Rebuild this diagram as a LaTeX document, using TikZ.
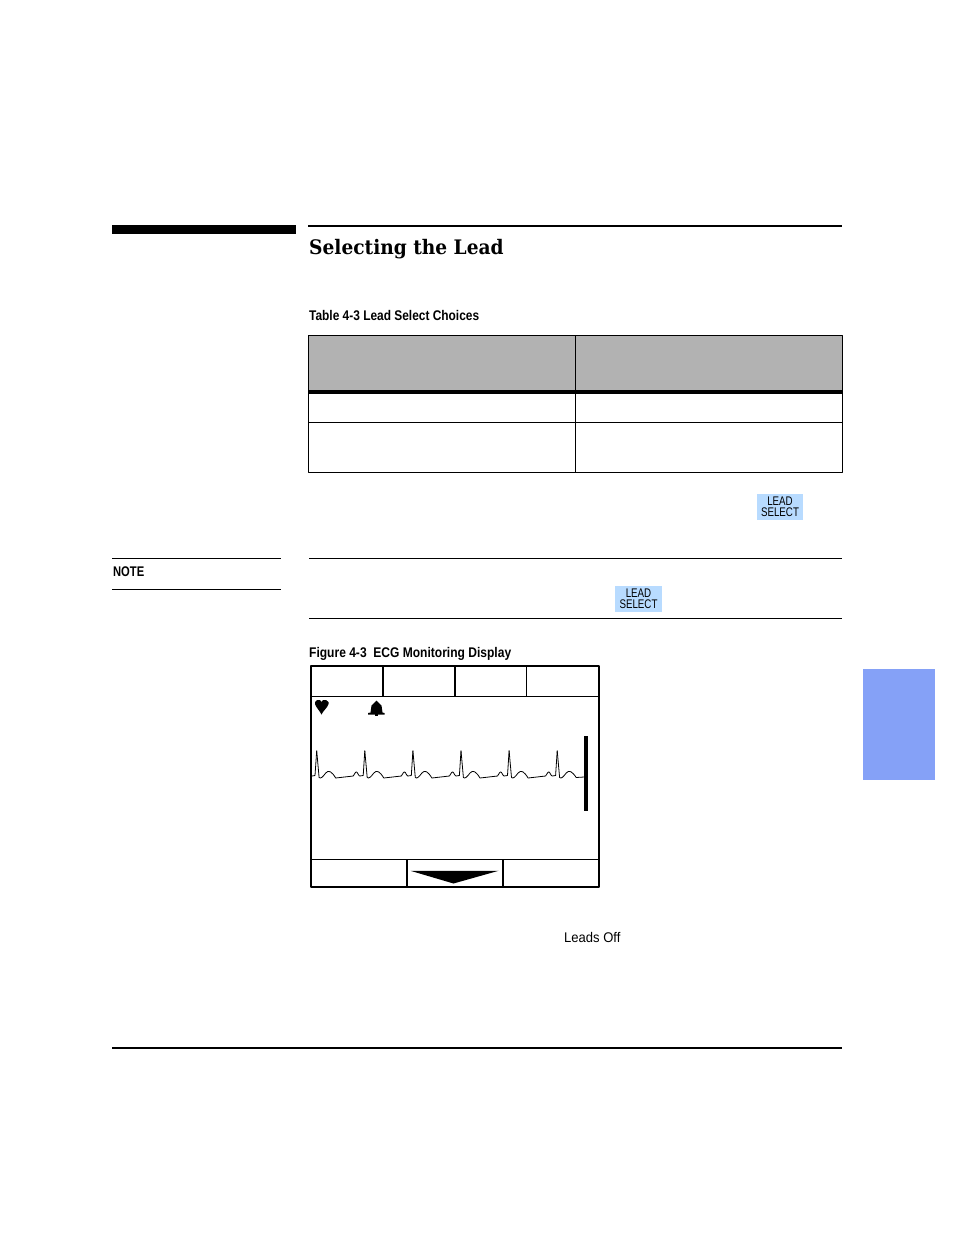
\documentclass[tikz,border=0pt]{standalone}
\usepackage{fontspec}
\usepackage{xcolor}
\usepackage{tikz}
\usetikzlibrary{calc}
\newfontfamily\condfont{Liberation Sans}
\newfontfamily\headfont{DejaVu Serif}
\definecolor{tabblue}{rgb}{0.52,0.63,0.97}
\definecolor{keyblue}{rgb}{0.72,0.86,1.}
\definecolor{headgray}{rgb}{0.70,0.70,0.70}
\tikzset{
  caption/.style={anchor=base west,inner sep=0pt,xscale=0.86,font=\condfont\bfseries\fontsize{14}{16}\selectfont},
  keylabel/.style={draw=none,fill=keyblue,minimum width=44pt,minimum height=26pt,inner sep=0pt},
  framerule/.style={line width=2.0pt},
  cellrule/.style={line width=1.1pt}
}
\newcommand{\keytext}{\raisebox{-0.5pt}{\scalebox{0.78}[1]{\parbox{60pt}{\centering\condfont\fontsize{12.5}{11}\selectfont LEAD\\SELECT}}}}
\begin{document}
\begin{tikzpicture}[x=1.0pt,y=-1.0pt,line join=round]
\useasboundingbox (0,0) rectangle (954,1235);
\fill [white] (0,0) rectangle (954,1235);
% page head
\fill [black] (112,225) rectangle (296,234);
\draw [line width=2.2pt] (308,226) -- (842,226);
\node (title) [anchor=base west,inner sep=0pt,xscale=0.93,font=\headfont\bfseries\fontsize{20}{24}\selectfont] at (309,254) {Selecting the Lead};
\node (tablecap) [caption,xscale=0.99] at (309,320) {Table 4-3 Lead Select Choices};
% table
\fill [headgray] (308.5,336) rectangle (842.5,390);
\fill [black] (308.5,390) rectangle (842.5,394);
\draw [line width=0.9pt] (308.5,335.5) rectangle (842.5,472);
\draw [line width=0.9pt] (308.5,422) -- (842.5,422);
\draw [line width=0.9pt] (575.5,335.5) -- (575.5,472);
\node (keyone) [keylabel] at (780,507) {\keytext};
% note
\draw [line width=0.9pt] (112,558.5) -- (281,558.5);
\draw [line width=0.9pt] (112,589.5) -- (281,589.5);
\draw [line width=0.9pt] (309,558.5) -- (842,558.5);
\draw [line width=0.9pt] (309,618.5) -- (842,618.5);
\node (notelabel) [caption,xscale=0.93] at (113,576) {NOTE};
\node (keytwo) [keylabel,minimum width=45pt] at (638.5,599) {\keytext};
% display
\node (figcap) [caption] at (309,657) {Figure 4-3\ \ ECG Monitoring Display};
\draw [framerule] (311,665.5) rectangle (598.5,886.5);
\draw [cellrule] (311,696.5) -- (598.5,696.5);
\draw [cellrule] (311,859.5) -- (598.5,859.5);
\foreach \divx in {383,455,526.5}
  \draw [cellrule] (\divx,665.5) -- (\divx,696.5);
\foreach \divx in {407,503}
  \draw [cellrule] (\divx,859.5) -- (\divx,886.5);
\fill [black] (410.5,870.8) -- (498.5,870.8) -- (453.5,883.5) -- cycle;
\fill [black] (584,736) rectangle (588,811);
% heart and bell
\fill [black] (321.5,714.5) -- (320,712) -- (316.5,707) -- (315,704) -- (315,702) -- (317,700) -- (320,700) -- (321.5,702) -- (323,700) -- (326,700) -- (328.5,702) -- (328.5,704) -- (327,707) -- (323,712) -- cycle;
\fill [black] (368,714.5) -- (384.5,714.5) -- (384.5,713) -- (382.5,712.5) -- (381.5,705.5) -- (378.5,702.5) -- (376.5,700.5) -- (374.5,702.5) -- (371.5,705.5) -- (370.5,712.5) -- (368,713) -- cycle;
\fill [black] (374.8,714) rectangle (378,715.5);
% trace
\draw [line width=0.8pt] (312,776) -- (315,775.5) -- (316.7,750.7);
\foreach \peakx in {316.7,364.8,412.9,461,509.1}
  \draw [line width=0.8pt] (\peakx,750.7) -- (\peakx+2.4,777.5) .. controls (\peakx+4,779) and (\peakx+6,777) .. (\peakx+9,773) .. controls (\peakx+12,769.5) and (\peakx+15,771.5) .. (\peakx+19,778) -- (\peakx+36.5,776) .. controls (\peakx+38,773.5) and (\peakx+39.5,770.5) .. (\peakx+40.5,772.5) .. controls (\peakx+41.5,774.5) and (\peakx+42.5,776) .. (\peakx+43,776) -- (\peakx+46.5,775.5) -- (\peakx+48.1,750.7);
\draw [line width=0.8pt] (557.2,750.7) -- (559.6,777.5) .. controls (561.2,779) and (563.2,777) .. (566.2,773) .. controls (569.2,769.5) and (572.2,771.5) .. (576.2,777.5) -- (584,777);
\node (leadsoff) [anchor=base west,inner sep=0pt,xscale=0.93,font=\condfont\fontsize{14}{16}\selectfont] at (564,942) {Leads Off};
% side tab and foot
\fill [tabblue] (863,669) rectangle (935,780);
\draw [line width=1.5pt] (112,1048) -- (842,1048);
\end{tikzpicture}
\end{document}
